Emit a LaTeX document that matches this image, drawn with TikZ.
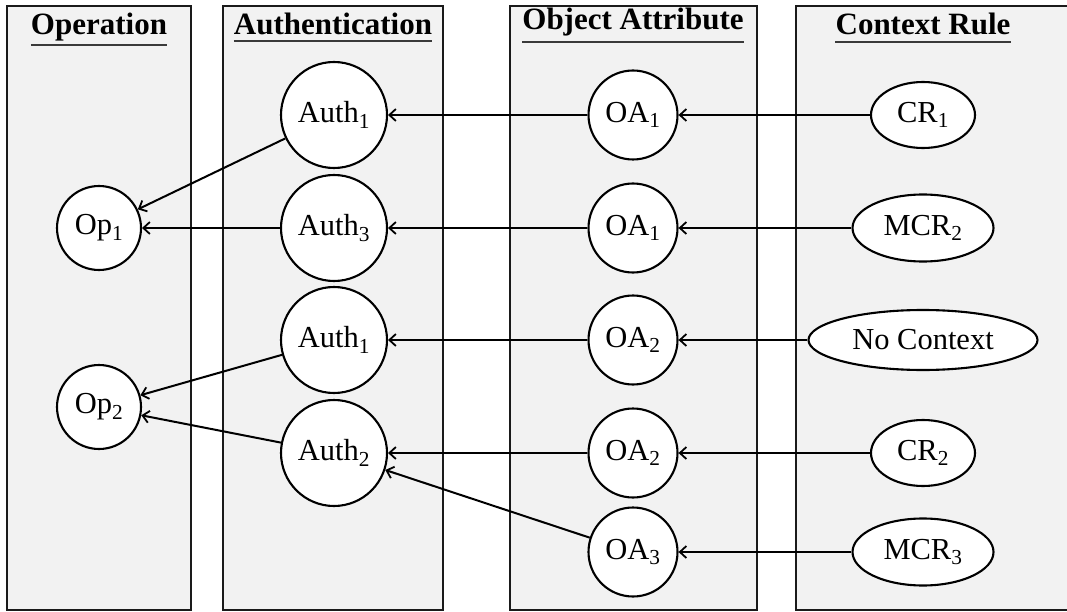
\documentclass[tikz,border=0pt]{standalone}
\usepackage{fontspec}
\setmainfont{Liberation Serif}
\usetikzlibrary{shapes.geometric,arrows.meta}
\definecolor{panelfill}{HTML}{F2F2F2}
\definecolor{panelline}{HTML}{1A1A1A}
\definecolor{ruleline}{HTML}{3A3A3A}
\tikzset{
  panel/.style={draw=panelline,line width=2.2pt,fill=panelfill},
  paneltitle/.style={font=\fontsize{31}{33}\selectfont\bfseries,inner sep=0pt,anchor=base},
  titlerule/.style={draw=ruleline,line width=1.6pt},
  circnode/.style={circle,draw=black,line width=2.1pt,fill=white,inner sep=0pt,
    font=\fontsize{30.5}{32}\selectfont},
  opnode/.style={circnode,minimum size=84pt},
  authnode/.style={circnode,minimum size=106pt},
  oanode/.style={circnode,minimum size=89pt},
  ctxnode/.style={ellipse,draw=black,line width=2.1pt,fill=white,inner sep=0pt,
    font=\fontsize{30.5}{32}\selectfont},
  link/.style={draw=black,line width=2pt,-{Straight Barb[length=6.5pt,width=12pt,line width=1.8pt]}},
}
\begin{document}
\begin{tikzpicture}[x=1pt,y=-1pt]
  \useasboundingbox (0,0) rectangle (1067,612);
  % column panels
  \path[panel] (7,6) rectangle (191,610);
  \path[panel] (223,6) rectangle (443,610);
  \path[panel] (510,6) rectangle (757,610);
  \path[panel] (796,6) rectangle (1080,610);

  % column headings with rules beneath
  \node[paneltitle] (tOp) at (99,35) {Operation};
  \node[paneltitle] (tAuth) at (333,35) {Authentication};
  \node[paneltitle] (tOA) at (633,30) {Object Attribute};
  \node[paneltitle] (tCR) at (923,35) {Context Rule};
  \draw[titlerule] ([yshift=-10pt]tOp.base west) -- ([yshift=-10pt]tOp.base east);
  \draw[titlerule] ([yshift=-6pt]tAuth.base west) -- ([yshift=-6pt]tAuth.base east);
  \draw[titlerule] ([yshift=-12pt]tOA.base west) -- ([yshift=-12pt]tOA.base east);
  \draw[titlerule] ([yshift=-7pt]tCR.base west) -- ([yshift=-7pt]tCR.base east);

  % operations
  \node[opnode] (op1) at (99,228) {Op\textsubscript{1}};
  \node[opnode] (op2) at (99,407) {Op\textsubscript{2}};

  % authentications
  \node[authnode] (authA) at (334,115) {Auth\textsubscript{1}};
  \node[authnode] (authC) at (334,228) {Auth\textsubscript{3}};
  \node[authnode] (authB) at (334,340) {Auth\textsubscript{1}};
  \node[authnode] (authD) at (334,453) {Auth\textsubscript{2}};

  % object attributes
  \node[oanode] (oaA) at (633,115) {OA\textsubscript{1}};
  \node[oanode] (oaB) at (633,228) {OA\textsubscript{1}};
  \node[oanode] (oaC) at (633,340) {OA\textsubscript{2}};
  \node[oanode] (oaD) at (633,453) {OA\textsubscript{2}};
  \node[oanode] (oaE) at (633,552) {OA\textsubscript{3}};

  % context rules
  \node[ctxnode,minimum width=104pt,minimum height=66pt] (crA) at (923,115) {CR\textsubscript{1}};
  \node[ctxnode,minimum width=141pt,minimum height=67pt] (crB) at (923,228) {MCR\textsubscript{2}};
  \node[ctxnode,minimum width=229pt,minimum height=60pt] (crC) at (923,340) {No Context};
  \node[ctxnode,minimum width=104pt,minimum height=66pt] (crD) at (923,453) {CR\textsubscript{2}};
  \node[ctxnode,minimum width=141pt,minimum height=67pt] (crE) at (923,552) {MCR\textsubscript{3}};

  % context rule -> object attribute
  \draw[link] (crA) -- (oaA);
  \draw[link] (crB) -- (oaB);
  \draw[link] (crC) -- (oaC);
  \draw[link] (crD) -- (oaD);
  \draw[link] (crE) -- (oaE);

  % object attribute -> authentication
  \draw[link] (oaA) -- (authA);
  \draw[link] (oaB) -- (authC);
  \draw[link] (oaC) -- (authB);
  \draw[link] (oaD) -- (authD);
  \draw[link] (oaE) -- (authD);

  % authentication -> operation
  \draw[link] (authA) -- (op1);
  \draw[link] (authC) -- (op1);
  \draw[link] (authB) -- (op2);
  \draw[link] (authD) -- (op2);
\end{tikzpicture}
\end{document}
